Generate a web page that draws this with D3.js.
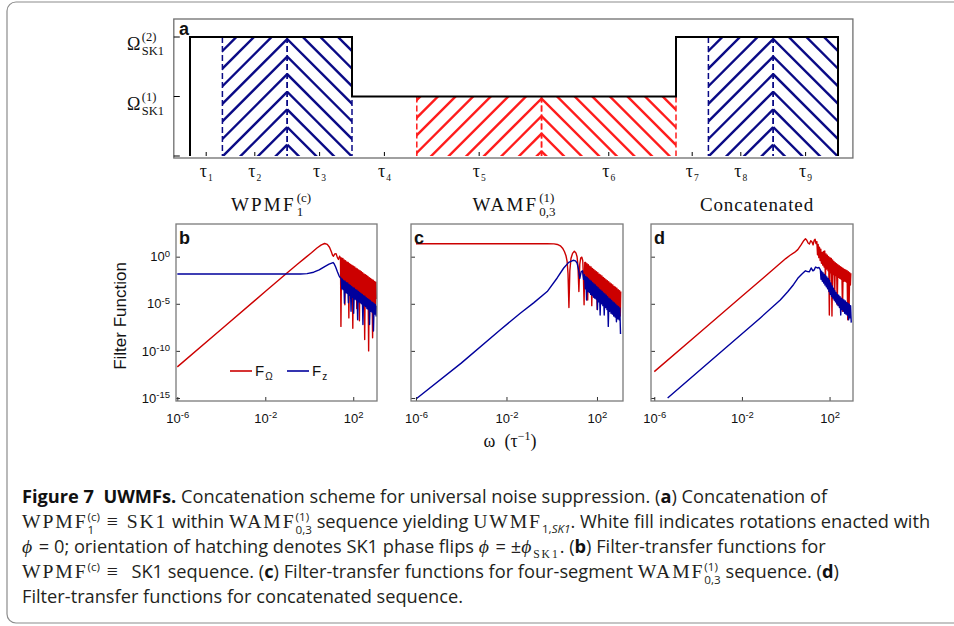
<!DOCTYPE html>
<html lang="en">
<head>
<meta charset="UTF-8">
<title>UWMF concatenation</title>
<script src="https://cdn.jsdelivr.net/npm/d3@7"></script>
<style>
  body { margin: 0; background: #fff; }
  svg { display: block; }
  .serif { font-family: "Liberation Serif", "DejaVu Serif", serif; fill: #111; }
  .sans { font-family: "Liberation Sans", Arial, sans-serif; fill: #111; }
  .cap { font-family: "Open Sans", "Noto Sans", sans-serif; fill: #231f20; white-space: pre; }
  .capm { font-family: "Liberation Serif", serif; letter-spacing: 1.9px; }
</style>
</head>
<body>
<svg width="954" height="626"></svg>
<script>
// ---------------- panel a: pulse sequence
const segNames = ["1", "2", "3", "4", "5", "6", "7", "8", "9"];
const segDur   = [1, 2, 2, 2, 3.85, 4.15, 1, 2, 2];
const segLevel = [2, 2, 2, 1, 1, 1, 2, 2, 2];
const segFill  = ["none", "blue", "blue", "none", "red", "red", "none", "blue", "blue"];
const segDir   = [0, 1, -1, 0, 1, -1, 0, 1, -1];
const levelSup = { 1: "(1)", 2: "(2)" };
const seqTitles = [
  { base: "WPMF", sup: "(c)", sub: "1", first: 0, last: 2 },
  { base: "WAMF", sup: "(1)", sub: "0,3", first: 3, last: 5 },
  { base: "Concatenated", first: 6, last: 8 }
];

// ---------------- panels b-d: filter functions, [log10 omega, log10 F]
const bRed = [[-6.0,-11.7],[-4.0,-7.7],[-2.0,-3.7],[-1.0,-1.7],[-0.5,-0.72],[-0.2,-0.15],[0.1,0.42],[0.35,0.92],[0.55,1.25],[0.7,1.4],[0.82,1.3],[0.92,1.0],[1.0,0.55],[1.06,0.15],[1.1,0.05],[1.16,0.3],[1.22,0.32],[1.28,-0.1],[1.33,-0.3],[1.38,0.05],[1.42,-0.15],
  [1.44,-7.4],[1.47,-0.13],[1.50,-2.6],[1.53,-0.2],[1.56,-2.9],[1.59,-0.35],[1.62,-5.1],[1.65,-0.42],[1.68,-3.1],[1.71,-0.55],[1.74,-3.4],[1.77,-0.62],[1.80,-6.5],[1.83,-0.75],[1.86,-3.5],[1.89,-0.82],[1.92,-3.8],[1.95,-0.93],[1.98,-7.6],[2.01,-1.02],[2.04,-4.0],[2.07,-1.1],[2.10,-4.2],[2.13,-1.22],[2.16,-5.5],[2.19,-1.3],[2.22,-4.4],[2.25,-1.42],[2.28,-6.8],[2.31,-1.5],[2.34,-4.6],[2.37,-1.6],[2.40,-4.7],[2.43,-1.7],[2.46,-5.0],[2.49,-1.82],[2.52,-8.8],[2.55,-1.9],[2.58,-5.1],[2.61,-2.0],[2.64,-5.3],[2.67,-2.1],[2.70,-10.0],[2.73,-2.22],[2.76,-5.5],[2.79,-2.3],[2.82,-5.7],[2.85,-2.42],[2.88,-8.6],[2.91,-2.5],[2.94,-5.8],[2.97,-2.62],[3.00,-6.0],[3.03,-2.72],[3.05,-4.5]];
const bBlue = [[-6.0,-1.84],[-0.4,-1.84],[-0.1,-1.8],[0.2,-1.65],[0.45,-1.4],[0.7,-1.05],[0.9,-0.8],[1.02,-0.68],[1.08,-0.62],[1.13,-0.75],[1.2,-1.1],[1.28,-1.6],[1.35,-2.0],[1.4,-2.2],
  [1.45,-2.3],[1.48,-3.4],[1.51,-2.4],[1.54,-3.5],[1.57,-2.55],[1.60,-4.95],[1.63,-2.6],[1.66,-3.8],[1.69,-2.75],[1.72,-3.9],[1.75,-2.8],[1.78,-4.9],[1.81,-2.95],[1.84,-4.1],[1.87,-3.05],[1.90,-5.8],[1.93,-3.15],[1.96,-4.3],[1.99,-3.3],[2.02,-6.0],[2.05,-3.35],[2.08,-4.5],[2.11,-3.5],[2.14,-4.6],[2.17,-3.55],[2.20,-6.7],[2.23,-3.7],[2.26,-4.8],[2.29,-3.8],[2.32,-4.9],[2.35,-3.9],[2.38,-5.0],[2.41,-4.0],[2.44,-7.2],[2.47,-4.15],[2.50,-5.2],[2.53,-4.2],[2.56,-5.3],[2.59,-4.35],[2.62,-5.5],[2.65,-4.45],[2.68,-5.6],[2.71,-4.55],[2.74,-7.2],[2.77,-4.65],[2.80,-5.8],[2.83,-4.8],[2.86,-5.9],[2.89,-4.85],[2.92,-7.9],[2.95,-5.0],[2.98,-6.1],[3.01,-5.1],[3.04,-6.3],[3.05,-5.2]];
const cRed = [[-6.0,1.38],[-0.2,1.38],[0.1,1.36],[0.25,1.3],[0.38,1.15],[0.48,0.9],[0.56,0.55],[0.63,0.1],[0.68,-0.5],[0.72,-1.8],[0.76,-5.4],[0.8,-1.5],[0.85,-0.2],[0.92,0.35],[1.0,0.57],[1.07,0.4],[1.12,0.0],[1.16,-1.0],[1.2,-3.7],[1.24,-0.8],[1.28,-0.15],[1.33,-0.05],[1.37,-0.4],[1.4,-2.0],[1.43,-5.1],[1.46,-0.6],
  [1.50,-0.6],[1.53,-3.0],[1.56,-0.75],[1.59,-4.6],[1.62,-0.85],[1.65,-3.3],[1.68,-1.0],[1.71,-3.4],[1.74,-1.1],[1.77,-5.2],[1.80,-1.25],[1.83,-3.6],[1.86,-1.35],[1.89,-3.8],[1.92,-1.5],[1.95,-3.9],[1.98,-1.6],[2.01,-5.6],[2.04,-1.7],[2.07,-4.1],[2.10,-1.85],[2.13,-4.3],[2.16,-1.95],[2.19,-4.4],[2.22,-2.05],[2.25,-4.5],[2.28,-2.2],[2.31,-4.7],[2.34,-2.3],[2.37,-4.8],[2.40,-2.45],[2.43,-4.9],[2.46,-2.55],[2.49,-5.1],[2.52,-2.65],[2.55,-5.2],[2.58,-2.8],[2.61,-5.3],[2.64,-2.9],[2.67,-5.5],[2.70,-3.0],[2.73,-5.6],[2.76,-3.15],[2.79,-5.7],[2.82,-3.25],[2.85,-5.9],[2.88,-3.35],[2.91,-6.0],[2.94,-3.5],[2.97,-6.1],[3.00,-3.6],[3.03,-6.3],[3.05,-3.7]];
const cBlue = [[-6.0,-15.1],[-4.0,-11.3],[-2.27,-7.75],[-1.39,-6.0],[-0.8,-4.9],[-0.2,-3.7],[0.24,-2.26],[0.53,-1.2],[0.75,-0.6],[0.95,-0.38],[1.05,-0.45],[1.12,-0.67],[1.18,-1.3],[1.24,-2.3],[1.3,-1.6],[1.36,-1.5],[1.41,-2.4],
  [1.45,-1.9],[1.48,-3.4],[1.51,-2.1],[1.54,-4.6],[1.57,-2.2],[1.60,-3.7],[1.63,-2.35],[1.66,-3.8],[1.69,-2.5],[1.72,-4.0],[1.75,-2.6],[1.78,-4.1],[1.81,-2.75],[1.84,-4.3],[1.87,-2.9],[1.90,-4.4],[1.93,-3.0],[1.96,-4.5],[1.99,-3.15],[2.02,-5.6],[2.05,-3.3],[2.08,-4.8],[2.11,-3.45],[2.14,-6.2],[2.17,-3.55],[2.20,-5.0],[2.23,-3.7],[2.26,-5.2],[2.29,-3.85],[2.32,-6.2],[2.35,-3.95],[2.38,-5.4],[2.41,-4.1],[2.44,-5.6],[2.47,-4.25],[2.50,-7.4],[2.53,-4.4],[2.56,-5.8],[2.59,-4.5],[2.62,-6.0],[2.65,-4.65],[2.68,-6.1],[2.71,-4.8],[2.74,-6.3],[2.77,-4.9],[2.80,-6.4],[2.83,-5.05],[2.86,-6.9],[2.89,-5.2],[2.92,-6.6],[2.95,-5.3],[2.98,-6.7],[3.01,-5.45],[3.04,-8.2]];
const dRed = [[-6.0,-12.2],[-4.0,-8.2],[-2.0,-4.2],[-1.0,-2.2],[0.0,-0.2],[0.2,0.15],[0.4,0.45],[0.55,0.75],[0.7,1.25],[0.82,1.7],[0.9,1.9],[0.96,1.75],[1.02,1.45],[1.08,1.35],[1.14,1.7],[1.2,1.55],[1.25,1.25],[1.3,1.75],[1.34,1.85],[1.38,1.4],
  [1.42,1.6],[1.45,0.2],[1.48,1.3],[1.51,-0.1],[1.54,1.0],[1.57,-0.4],[1.60,0.8],[1.63,-0.7],[1.66,0.45],[1.69,-0.9],[1.72,0.55],[1.75,-1.1],[1.78,0.6],[1.81,-2.3],[1.84,0.3],[1.87,-1.3],[1.90,0.15],[1.93,-1.5],[1.96,0.0],[1.99,-6.2],[2.02,-0.1],[2.05,-1.7],[2.08,-0.2],[2.11,-6.3],[2.14,-0.35],[2.17,-1.9],[2.20,-0.5],[2.23,-4.6],[2.26,-0.65],[2.29,-2.0],[2.32,-0.75],[2.35,-5.1],[2.38,-0.85],[2.41,-2.2],[2.44,-0.95],[2.47,-2.3],[2.50,-1.05],[2.53,-2.4],[2.56,-1.15],[2.59,-5.8],[2.62,-1.25],[2.65,-2.6],[2.68,-1.35],[2.71,-2.6],[2.74,-1.4],[2.77,-2.7],[2.80,-1.5],[2.83,-6.7],[2.86,-1.6],[2.89,-5.4],[2.92,-1.7],[2.95,-3.0],[2.97,-1.75]];
const dBlue = [[-5.39,-15.0],[-3.0,-10.2],[-1.16,-6.5],[-0.25,-4.6],[0.1,-3.7],[0.36,-2.95],[0.55,-2.3],[0.74,-1.84],[0.9,-1.5],[1.0,-1.58],[1.08,-1.6],[1.16,-1.2],[1.24,-1.5],[1.3,-1.4],[1.36,-1.1],[1.45,-1.2],[1.52,-1.15],
  [1.58,-1.4],[1.61,-2.4],[1.64,-1.55],[1.67,-2.6],[1.70,-1.7],[1.73,-2.8],[1.76,-1.85],[1.79,-3.0],[1.82,-2.0],[1.85,-3.2],[1.88,-2.15],[1.91,-3.4],[1.94,-2.3],[1.97,-3.7],[2.00,-2.5],[2.03,-4.0],[2.06,-2.8],[2.09,-4.2],[2.12,-3.1],[2.15,-4.4],[2.18,-3.35],[2.21,-4.6],[2.24,-3.6],[2.27,-4.8],[2.30,-3.8],[2.33,-5.0],[2.36,-4.0],[2.39,-5.2],[2.42,-4.1],[2.45,-5.4],[2.48,-4.25],[2.51,-6.2],[2.54,-4.4],[2.57,-5.6],[2.60,-4.5],[2.63,-5.8],[2.66,-4.6],[2.69,-6.0],[2.72,-4.7],[2.75,-6.1],[2.78,-4.85],[2.81,-6.2],[2.84,-4.95],[2.87,-6.7],[2.90,-5.05],[2.93,-6.5],[2.96,-5.2],[2.99,-7.0]];

const xTickVals = [1e-6, 1e-2, 1e2];
const yTickVals = [1, 1e-5, 1e-10, 1e-15];
const yExp = [-15.32, 3.47];
const panels = [
  { id: "b", x0: 176, x1: 377, dom: [-6.06, 3.08], red: bRed, blue: bBlue, labels: true },
  { id: "c", x0: 411, x1: 623, dom: [-6.22, 3.15], red: cRed, blue: cBlue, labels: false },
  { id: "d", x0: 651, x1: 853, dom: [-6.15, 3.07], red: dRed, blue: dBlue, labels: false }
];

const svg = d3.select("svg");
const redC = "#cc0000", blueC = "#00009c";

// outer rounded border
svg.append("rect").attr("x", 7).attr("y", 2).attr("width", 970).attr("height", 621)
   .attr("rx", 9).attr("fill", "none").attr("stroke", "#8c8c8c").attr("stroke-width", 1.2);

// stacked sup/sub label helper
function stack(parent, o) {
  const g = parent.append("g");
  const b = g.append("text").attr("class", o.cls).style("font-size", o.fs + "px")
             .style("letter-spacing", (o.ls || 0) + "px").text(o.base);
  const bw = b.node().getComputedTextLength();
  let w = bw;
  if (o.sup) {
    const s = g.append("text").attr("class", o.cls).attr("x", bw + 1).attr("y", -o.up)
               .style("font-size", o.sfs + "px").text(o.sup);
    w = Math.max(w, bw + 1 + s.node().getComputedTextLength());
  }
  if (o.sub) {
    const s = g.append("text").attr("class", o.cls).attr("x", bw + 1).attr("y", o.dn)
               .style("font-size", o.sfs + "px").text(o.sub);
    w = Math.max(w, bw + 1 + s.node().getComputedTextLength());
  }
  return { g: g, w: w };
}

// ---------------- panel a
const tEnd = d3.sum(segDur);
const ta = d3.scaleLinear().domain([0, tEnd]).range([190, 838]);
const ya = d3.scaleLinear().domain([0, 2]).range([156, 37]);
const edges = [0];
segDur.forEach(d => edges.push(edges[edges.length - 1] + d));

const ga = svg.append("g");
ga.append("rect").attr("x", ta(-0.5)).attr("y", 19)
  .attr("width", ta(tEnd + 0.46) - ta(-0.5)).attr("height", 158 - 19)
  .attr("fill", "none").attr("stroke", "#6e6e6e").attr("stroke-width", 1.3);

const hatchCol = { blue: "#0a0a86", red: "#ff1c1c" };
const spacing = 17.6;
segFill.forEach((f, i) => {
  if (f === "none") return;
  const xa = ta(edges[i]), xb = ta(edges[i + 1]);
  const yt = ya(segLevel[i]), yb = ya(0);
  const id = "clip" + i;
  ga.append("clipPath").attr("id", id).append("rect")
    .attr("x", xa).attr("y", yt).attr("width", xb - xa).attr("height", yb - yt);
  const xd = segDir[i] > 0 ? xb : xa;
  const w = xb - xa, h = yb - yt;
  const ks = d3.range(-Math.ceil(w / spacing) - 1, Math.ceil(h / spacing) + 1);
  ga.append("g").attr("clip-path", "url(#" + id + ")")
    .selectAll("line").data(ks).join("line")
    .attr("x1", xd).attr("y1", k => yt + 2 + k * spacing)
    .attr("x2", k => xd - segDir[i] * (w + h + 40))
    .attr("y2", k => yt + 2 + k * spacing + (w + h + 40))
    .attr("stroke", hatchCol[f]).attr("stroke-width", 2.4);
  ga.selectAll(null).data([xa, xb]).join("line")
    .attr("x1", d => d).attr("x2", d => d).attr("y1", yt).attr("y2", yb)
    .attr("stroke", hatchCol[f]).attr("stroke-width", 1.5).attr("stroke-dasharray", "6,3");
});

// black amplitude envelope
const stepPts = [[0, 0]];
segLevel.forEach((l, i) => { stepPts.push([edges[i], l]); stepPts.push([edges[i + 1], l]); });
stepPts.push([tEnd, 0]);
ga.append("path").datum(stepPts)
  .attr("d", d3.line().x(d => ta(d[0])).y(d => ya(d[1])))
  .attr("fill", "none").attr("stroke", "#000").attr("stroke-width", 2);

// left ticks + labels
ga.selectAll(null).data([0, 1, 2]).join("line")
  .attr("x1", ta(-0.5)).attr("x2", ta(-0.5) + 6).attr("y1", d => ya(d)).attr("y2", d => ya(d))
  .attr("stroke", "#000").attr("stroke-width", 1);
[1, 2].forEach(l => {
  const s = stack(ga, { cls: "serif", base: "Ω", sup: levelSup[l], sub: "SK1", fs: 18, sfs: 12.5, up: 9, dn: 5, ls: 0.5 });
  s.g.attr("transform", `translate(${164 - s.w},${ya(l) + 13})`);
});

// bottom ticks + tau labels
segNames.forEach((n, i) => {
  const m = ta((edges[i] + edges[i + 1]) / 2);
  ga.append("line").attr("x1", m).attr("x2", m).attr("y1", ya(0)).attr("y2", ya(0) - 4)
    .attr("stroke", "#000").attr("stroke-width", 1);
  const s = stack(ga, { cls: "serif", base: "τ", sub: n, fs: 18, sfs: 9.5, dn: 4 });
  s.g.attr("transform", `translate(${m - s.w / 2},177)`);
});

// sequence titles
seqTitles.forEach(t => {
  const c = (ta(edges[t.first]) + ta(edges[t.last + 1])) / 2;
  const s = stack(ga, { cls: "serif", base: t.base, sup: t.sup, sub: t.sub, fs: 19, sfs: 13, up: 9, dn: 5, ls: t.sup ? 2.2 : 0.9 });
  s.g.attr("transform", `translate(${c - s.w / 2},211)`);
});
ga.append("text").attr("class", "sans").attr("x", 179).attr("y", 35)
  .style("font-size", "18px").style("font-weight", "bold").text("a");

// ---------------- panels b-d
function pow10(sel) {
  sel.each(function (d) {
    const e = Math.round(Math.log10(d));
    const t = d3.select(this).text(null);
    t.append("tspan").text("10");
    t.append("tspan").attr("dy", "-0.5em").style("font-size", "9.5px").text(e);
  });
}

panels.forEach(p => {
  const x = d3.scaleLog().domain([10 ** p.dom[0], 10 ** p.dom[1]]).range([p.x0, p.x1]);
  const y = d3.scaleLog().domain([10 ** yExp[0], 10 ** yExp[1]]).range([401, 224]);
  const g = svg.append("g");
  const line = d3.line().x(d => x(10 ** d[0])).y(d => y(10 ** d[1]));

  g.append("path").datum(p.red).attr("d", line).attr("fill", "none")
   .attr("stroke", redC).attr("stroke-width", 1.4).attr("stroke-linejoin", "round");
  g.append("path").datum(p.blue).attr("d", line).attr("fill", "none")
   .attr("stroke", blueC).attr("stroke-width", 1.4).attr("stroke-linejoin", "round");

  const gy = g.append("g").attr("class", "sans").attr("transform", `translate(${p.x0},0)`)
    .call(d3.axisLeft(y).tickValues(yTickVals).tickSize(-4).tickPadding(6));
  const gx = g.append("g").attr("class", "sans").attr("transform", `translate(0,401)`)
    .call(d3.axisBottom(x).tickValues(xTickVals).tickSize(-4).tickPadding(13));
  [gy, gx].forEach(a => {
    a.select(".domain").remove();
    a.selectAll(".tick line").attr("stroke", "#333");
    a.selectAll(".tick text").style("font-size", "13px").attr("fill", "#111")
     .style("font-family", "'Liberation Sans', Arial, sans-serif");
  });
  pow10(gx.selectAll(".tick text"));
  if (p.labels) pow10(gy.selectAll(".tick text"));
  else gy.selectAll(".tick text").remove();

  g.append("rect").attr("x", p.x0).attr("y", 224).attr("width", p.x1 - p.x0).attr("height", 177)
   .attr("fill", "none").attr("stroke", "#7a7a7a").attr("stroke-width", 1.3);
  g.append("text").attr("class", "sans").attr("x", p.x0 + 3).attr("y", 244)
   .style("font-size", "18px").style("font-weight", "bold").text(p.id);
});

// legend in panel b
const legend = [{ col: redC, sub: "Ω", x: 230 }, { col: blueC, sub: "z", x: 287 }];
legend.forEach(l => {
  svg.append("line").attr("x1", l.x).attr("x2", l.x + 22).attr("y1", 371).attr("y2", 371)
     .attr("stroke", l.col).attr("stroke-width", 1.6);
  const s = stack(svg, { cls: "sans", base: "F", sub: l.sub, fs: 15, sfs: 10, dn: 4 });
  s.g.attr("transform", `translate(${l.x + 25},376)`);
});

svg.append("text").attr("class", "sans").attr("transform", "translate(126,316) rotate(-90)")
   .attr("text-anchor", "middle").style("font-size", "17px").text("Filter Function");
{
  const t = svg.append("text").attr("class", "serif").attr("x", 510).attr("y", 447)
    .attr("text-anchor", "middle").style("font-size", "18px").style("white-space", "pre");
  t.append("tspan").text("ω  (τ");
  t.append("tspan").attr("dy", -7).style("font-size", "12px").text("−1");
  t.append("tspan").attr("dy", 7).text(")");
}

// ---------------- caption
const capLines = [
  [{ t: "Figure 7  UWMFs.", b: 1 }, { t: " Concatenation scheme for universal noise suppression. (" }, { t: "a", b: 1 }, { t: ") Concatenation of" }],
  [{ t: "WPMF", m: 1 }, { st: ["(c)", "1"] }, { t: " ≡ SK1", m: 1 }, { t: " within " }, { t: "WAMF", m: 1 }, { st: ["(1)", "0,3"] },
   { t: " sequence yielding " }, { t: "UWMF", m: 1 }, { sub: "1,", i: 0 }, { sub: "SK1", i: 1 }, { t: ". White fill indicates rotations enacted with" }],
  [{ t: "ϕ", m: 1, i: 1 }, { t: " = 0; orientation of hatching denotes SK1 phase flips " }, { t: "ϕ", m: 1, i: 1 }, { t: " = ±" }, { t: "ϕ", m: 1, i: 1 },
   { sub: "SK1", m: 1 }, { t: ". (" }, { t: "b", b: 1 }, { t: ") Filter-transfer functions for" }],
  [{ t: "WPMF", m: 1 }, { sup: "(c)" }, { t: " ≡ ", m: 1 }, { t: " SK1 sequence. (" }, { t: "c", b: 1 }, { t: ") Filter-transfer functions for four-segment " },
   { t: "WAMF", m: 1 }, { st: ["(1)", "0,3"] }, { t: " sequence. (" }, { t: "d", b: 1 }, { t: ")" }],
  [{ t: "Filter-transfer functions for concatenated sequence." }]
];

// fit caption size to the reference width of the last line
const probe = svg.append("text").attr("class", "cap").style("font-size", "16px").text(capLines[4][0].t);
const capFs = 16 * 441 / probe.node().getComputedTextLength();
probe.remove();
const subFs = capFs * 0.64;

capLines.forEach((parts, li) => {
  const t = svg.append("text").attr("class", "cap").attr("x", 22).attr("y", 503 + li * 25)
    .style("font-size", capFs + "px");
  let base = 0, pend = 0;
  function span(txt, off, fs, p) {
    const s = t.append("tspan").text(txt).attr("dy", off - base).style("font-size", fs + "px");
    base = off;
    if (pend) { s.attr("dx", pend); pend = 0; }
    if (p.m) s.attr("class", "capm");
    if (p.b) s.style("font-weight", "bold").style("fill", "#111");
    if (p.i) s.style("font-style", "italic");
    return s;
  }
  parts.forEach(p => {
    if (p.st) {
      const a = span(p.st[0], -7.5, subFs, { i: 0 });
      const aw = a.node().getComputedTextLength();
      pend = -aw;
      const b = span(p.st[1], 5.5, subFs, {});
      const bw = b.node().getComputedTextLength();
      pend = Math.max(0, aw - bw);
    } else if (p.sup) {
      span(p.sup, -7, subFs, p);
    } else if (p.sub) {
      span(p.sub, 5, subFs, p);
    } else {
      span(p.t, 0, p.m ? capFs * 1.08 : capFs, p);
    }
  });
});
</script>
</body>
</html>
